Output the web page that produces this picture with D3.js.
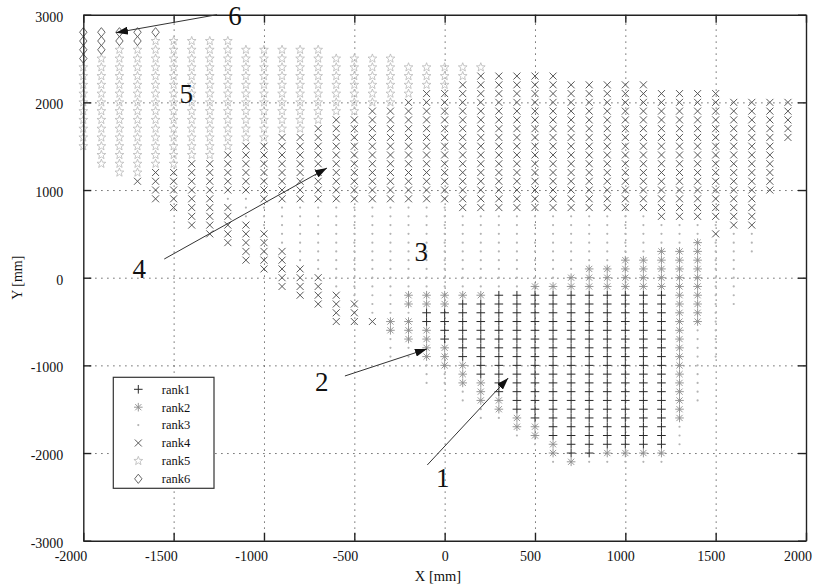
<!DOCTYPE html>
<html>
<head>
<meta charset="utf-8">
<script src="https://cdn.jsdelivr.net/npm/d3@7"></script>
<style>
  body { margin: 0; background: #fff; }
  text { font-family: "Liberation Serif", "DejaVu Serif", serif; }
</style>
</head>
<body>
<svg id="chart" width="814" height="586"></svg>
<script>
// measured grid cells, one segment = [x, yFrom, yTo] (mm, 100 mm step)
const rank1 = [
  [-100,-500,-400],[0,-700,-400],[100,-900,-300],[200,-1100,-300],
  [300,-1300,-200],[400,-1500,-200],[500,-1600,-200],[600,-1800,-200],
  [700,-2000,-200],[800,-2000,-200],[900,-1900,-200],[1000,-1900,-200],
  [1100,-1900,-200],[1200,-1900,-200]
];
const rank2 = [
  [-300,-600,-500],
  [-200,-300,-200],[-200,-700,-500],
  [-100,-300,-200],[-100,-900,-600],
  [0,-300,-200],[0,-1000,-800],
  [100,-200,-200],[100,-1200,-1000],
  [200,-200,-200],[200,-1400,-1200],
  [300,-1500,-1400],[400,-1700,-1600],
  [500,-100,-100],[500,-1800,-1700],
  [600,-100,-100],[600,-2000,-1900],
  [700,-100,0],[700,-2100,-2100],
  [800,-100,100],
  [900,-100,100],[900,-2000,-2000],
  [1000,-100,200],[1000,-2000,-2000],
  [1100,-100,200],[1100,-2000,-2000],
  [1200,-100,300],[1200,-2000,-2000],
  [1300,-1600,300],[1400,-500,400]
];
const rank3 = [
  [-1200,900,900],[-1100,700,900],[-1000,600,800],[-900,400,800],
  [-800,200,800],[-700,100,800],[-600,-100,800],[-500,-200,800],
  [-400,-400,800],
  [-300,-400,800],[-300,-900,-700],
  [-200,-100,800],[-200,-400,-400],[-200,-900,-800],
  [-100,-100,800],[-100,-1200,-1000],
  [0,-100,800],[0,-1200,-1100],
  [100,-100,700],[100,-1400,-1300],
  [200,-100,700],[200,-1600,-1500],
  [300,-100,700],[300,-1600,-1600],
  [400,-100,700],[400,-1800,-1800],
  [500,0,700],[500,-1900,-1900],
  [600,0,700],[600,-2100,-2100],
  [700,100,700],
  [800,200,700],[800,-2100,-2100],
  [900,200,700],[900,-2100,-2100],
  [1000,300,700],[1000,-2100,-2100],
  [1100,300,700],[1100,-2100,-2100],
  [1200,400,600],[1200,-2100,-2100],
  [1300,400,600],[1300,-1900,-1700],
  [1400,500,600],[1400,-1400,-600],
  [1500,600,600],[1500,-900,400],
  [1600,-300,500],[1700,300,500]
];
const rank4 = [
  [-1700,1100,1100],[-1600,900,1200],[-1500,800,1200],[-1400,600,1300],
  [-1300,500,1300],
  [-1200,1000,1400],[-1200,400,800],
  [-1100,1000,1500],[-1100,200,600],
  [-1000,900,1500],[-1000,100,500],
  [-900,900,1600],[-900,-100,300],
  [-800,900,1600],[-800,-200,100],
  [-700,900,1700],[-700,-300,0],
  [-600,900,1800],[-600,-500,-200],
  [-500,900,1800],[-500,-500,-300],
  [-400,900,1900],[-400,-500,-500],
  [-300,900,1900],[-200,900,2000],[-100,900,2100],[0,900,2100],
  [100,800,2200],[200,800,2300],[300,800,2300],[400,800,2300],
  [500,800,2300],[600,800,2300],[700,800,2200],[800,800,2200],
  [900,800,2200],[1000,800,2200],[1100,800,2200],
  [1200,700,2100],[1300,700,2100],[1400,700,2100],
  [1500,700,2100],[1500,500,500],
  [1600,600,2000],[1700,600,2000],[1800,1000,2000],[1900,1600,2000]
];
const rank5 = [
  [-2000,1500,2400],[-1900,1300,2500],[-1800,1200,2600],[-1700,1200,2600],
  [-1600,1300,2700],[-1500,1300,2700],[-1400,1400,2700],[-1300,1400,2700],
  [-1200,1500,2700],[-1100,1600,2600],[-1000,1600,2600],[-900,1700,2600],
  [-800,1700,2600],[-700,1800,2600],[-600,1900,2500],[-500,1900,2500],
  [-400,2000,2500],[-300,2000,2500],[-200,2100,2400],[-100,2200,2400],
  [0,2200,2400],[100,2300,2400],[200,2400,2400]
];
const rank6 = [
  [-2000,2500,2800],[-1900,2600,2800],[-1800,2700,2800],
  [-1700,2700,2800],[-1600,2800,2800]
];
const rankNames = ["rank1", "rank2", "rank3", "rank4", "rank5", "rank6"];
const xTicks = [-2000, -1500, -1000, -500, 0, 500, 1000, 1500, 2000];
const yTicks = [-3000, -2000, -1000, 0, 1000, 2000, 3000];
// annotation numbers and arrows, in mm
const labels = [
  ["6", -1160, 2990], ["5", -1430, 2100], ["4", -1690, 100],
  ["3", -130, 300], ["2", -680, -1180], ["1", -10, -2280]
];
const arrows = [
  [-1260, 3000, -1819, 2795],
  [-1552, 213, -651, 1251],
  [-552, -1121, -98, -813],
  [-96, -2136, 352, -1144]
];

const width = 814;
const height = 586;
const x = d3.scaleLinear().domain([-2000, 2000]).range([83.3, 806]);
const y = d3.scaleLinear().domain([-3000, 3000]).range([540.7, 14.7]);

const svg = d3.select("#chart");

// marker paths
const plusPath = (s) => `M${-s},0H${s}M0,${-s}V${s}`;
const timesPath = (s) => `M${-s},${-s}L${s},${s}M${-s},${s}L${s},${-s}`;
const starPath = (r) => {
  let p = "";
  for (let i = 0; i < 10; i++) {
    const rr = i % 2 ? r * 0.42 : r;
    const a = -Math.PI / 2 + i * Math.PI / 5;
    p += (i ? "L" : "M") + (rr * Math.cos(a)).toFixed(2) + "," + (rr * Math.sin(a)).toFixed(2);
  }
  return p + "Z";
};
const marks = [
  { path: plusPath(4.3), stroke: "#2a2a2a", width: 1 },
  { path: plusPath(4.3) + timesPath(3.1), stroke: "#8c8c8c", width: 0.9 },
  { dot: true, fill: "#b4b4b4" },
  { path: timesPath(3.5), stroke: "#505050", width: 0.95 },
  { path: starPath(4.6), stroke: "#b8b8b8", width: 0.8 },
  { path: "M0,-4.6L3.7,0L0,4.6L-3.7,0Z", stroke: "#555", width: 0.9 }
];

// grid
svg.append("g")
  .attr("transform", `translate(0,${y(-3000)})`)
  .call(d3.axisBottom(x).tickValues(xTicks.slice(1, -1)).tickSize(-(y(-3000) - y(3000))).tickFormat(""))
  .call((g) => g.select(".domain").remove())
  .selectAll("line")
  .attr("stroke", "#444")
  .attr("stroke-dasharray", "1.2,4.8");
svg.append("g")
  .attr("transform", `translate(${x(-2000)},0)`)
  .call(d3.axisLeft(y).tickValues(yTicks.slice(1, -1)).tickSize(-(x(2000) - x(-2000))).tickFormat(""))
  .call((g) => g.select(".domain").remove())
  .selectAll("line")
  .attr("stroke", "#444")
  .attr("stroke-dasharray", "1.2,4.8");

// points
const expand = (segs) =>
  segs.flatMap(([cx, y0, y1]) => d3.range(y0, y1 + 1, 100).map((cy) => [cx, cy]));

const ranks = [rank1, rank2, rank3, rank4, rank5, rank6];
[2, 4, 5, 3, 1, 0].forEach((k) => {
  const m = marks[k];
  const g = svg.append("g").attr("class", "rank" + (k + 1));
  const pts = g.selectAll("path").data(expand(ranks[k])).enter();
  if (m.dot) {
    pts.append("circle")
      .attr("cx", (d) => x(d[0]))
      .attr("cy", (d) => y(d[1]))
      .attr("r", 1.1)
      .attr("fill", m.fill);
  } else {
    pts.append("path")
      .attr("transform", (d) => `translate(${x(d[0])},${y(d[1])})`)
      .attr("d", m.path)
      .attr("fill", "none")
      .attr("stroke", m.stroke)
      .attr("stroke-width", m.width);
  }
});

// frame and ticks
const fmt = (d) => String(d);
const axes = [
  d3.axisBottom(x).tickValues(xTicks).tickFormat(fmt),
  d3.axisTop(x).tickValues(xTicks).tickFormat(""),
  d3.axisLeft(y).tickValues(yTicks).tickFormat(fmt),
  d3.axisRight(y).tickValues(yTicks).tickFormat("")
];
const pos = [
  `translate(0,${y(-3000)})`, `translate(0,${y(3000)})`,
  `translate(${x(-2000)},0)`, `translate(${x(2000)},0)`
];
axes.forEach((ax, i) => {
  const g = svg.append("g")
    .attr("transform", pos[i])
    .call(ax.tickSizeInner(-8).tickSizeOuter(0).tickPadding(i === 2 ? 20 : 10));
  g.attr("font-family", null).attr("font-size", null);
  g.select(".domain").attr("stroke", "#222").attr("stroke-width", 1.4);
  g.selectAll(".tick line").attr("stroke", "#222").attr("stroke-width", 1.4);
  g.selectAll("text")
    .style("font-family", '"Liberation Serif", serif')
    .style("font-size", "14px")
    .attr("fill", "#111");
  if (i === 0) {
    g.selectAll(".tick text")
      .attr("text-anchor", (d) => (d < 0 || d === 2000 ? "end" : "middle"))
      .attr("x", (d) => (d < 0 ? 3.5 : d === 2000 ? 5.5 : d === 0 ? 0 : -5));
  }
  if (i === 2) g.selectAll(".tick text").attr("dy", "0.45em");
});

// annotations
svg.append("defs").append("marker")
  .attr("id", "head")
  .attr("viewBox", "0 0 12 8")
  .attr("refX", 12).attr("refY", 4)
  .attr("markerWidth", 12).attr("markerHeight", 8)
  .attr("markerUnits", "userSpaceOnUse")
  .attr("orient", "auto")
  .append("path").attr("d", "M0,0L12,4L0,8Z").attr("fill", "#111");

svg.append("g").selectAll("line").data(arrows).enter()
  .append("line")
  .attr("x1", (d) => x(d[0])).attr("y1", (d) => y(d[1]))
  .attr("x2", (d) => x(d[2])).attr("y2", (d) => y(d[3]))
  .attr("stroke", "#333").attr("stroke-width", 1)
  .attr("marker-end", "url(#head)");

svg.append("g").selectAll("text").data(labels).enter()
  .append("text")
  .attr("x", (d) => x(d[1])).attr("y", (d) => y(d[2]))
  .attr("dy", "0.35em")
  .attr("text-anchor", "middle")
  .style("font-size", "27px")
  .attr("fill", "#111")
  .text((d) => d[0]);

// legend
const legend = svg.append("g").attr("transform", "translate(113.3,377.3)");
legend.append("rect")
  .attr("width", 100.7).attr("height", 111)
  .attr("fill", "#fff").attr("stroke", "#333").attr("stroke-width", 1.2);
rankNames.forEach((name, i) => {
  const m = marks[i];
  const row = legend.append("g").attr("transform", `translate(0,${12 + i * 17.9})`);
  if (m.dot) {
    row.append("circle").attr("cx", 25).attr("r", 1.1).attr("fill", m.fill);
  } else {
    row.append("path").attr("transform", "translate(25,0)").attr("d", m.path)
      .attr("fill", "none").attr("stroke", m.stroke).attr("stroke-width", m.width);
  }
  row.append("text").attr("x", 48.5).attr("dy", "0.35em")
    .style("font-size", "12.5px").attr("fill", "#111").text(name);
});

// axis titles
svg.append("text")
  .attr("x", 438).attr("y", 581)
  .attr("text-anchor", "middle").style("font-size", "14.5px").attr("fill", "#111")
  .text("X [mm]");
svg.append("text")
  .attr("transform", `translate(22,${y(0)}) rotate(-90)`)
  .attr("text-anchor", "middle").style("font-size", "14px").attr("fill", "#111")
  .text("Y [mm]");
</script>
</body>
</html>
